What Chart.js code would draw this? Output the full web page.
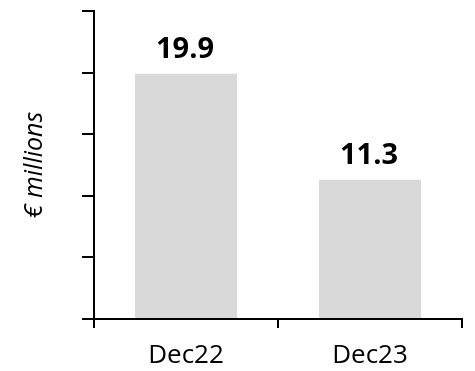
<!DOCTYPE html>
<html>
<head>
<meta charset="utf-8">
<script src="https://cdn.jsdelivr.net/npm/chart.js@4.4.0/dist/chart.umd.min.js"></script>
<style>
  body { margin: 0; background: #fff; }
</style>
</head>
<body>
<canvas id="barChart" width="475" height="371"></canvas>
<script>
var periods = ['Dec22', 'Dec23'];
var values = [19.9, 11.3];
var yTitle = '€ millions';

// value labels above each bar, placed from the bar elements
var valueLabels = {
    id: 'valueLabels',
    afterDatasetsDraw: function (chart) {
        var ctx = chart.ctx;
        var meta = chart.getDatasetMeta(0);
        ctx.save();
        ctx.font = 'bold 29px "Open Sans"';
        ctx.fillStyle = '#000';
        ctx.textAlign = 'center';
        ctx.textBaseline = 'alphabetic';
        meta.data.forEach(function (bar, i) {
            ctx.fillText(values[i].toFixed(1), bar.x - 1, bar.y - 16);
        });
        ctx.restore();
    }
};

var ctx1 = document.getElementById('barChart').getContext('2d');
var myChart1 = new Chart(ctx1, {
    type: 'bar',
    data: {
        labels: periods,
        datasets: [{
            data: values,
            backgroundColor: '#d9d9d9',
            borderWidth: 0,
            categoryPercentage: 1,
            barPercentage: 0.555
        }]
    },
    options: {
        responsive: false,
        animation: false,
        layout: {
            padding: { top: 11, right: 13, left: 0, bottom: 0 }
        },
        plugins: {
            legend: { display: false },
            tooltip: { enabled: false }
        },
        scales: {
            x: {
                grid: {
                    offset: true,
                    drawOnChartArea: false,
                    drawTicks: true,
                    tickLength: 9,
                    color: '#000',
                    lineWidth: 2
                },
                border: { color: '#000', width: 2 },
                ticks: {
                    color: '#000',
                    padding: 12,
                    font: { family: 'Open Sans', size: 26 }
                },
                afterFit: function (scale) { scale.height = 52; }
            },
            y: {
                min: 0,
                max: 25,
                grid: {
                    drawOnChartArea: false,
                    drawTicks: true,
                    tickLength: 12,
                    color: '#000',
                    lineWidth: 2
                },
                border: { color: '#000', width: 2 },
                ticks: {
                    stepSize: 5,
                    display: false
                },
                title: {
                    display: true,
                    text: yTitle,
                    color: '#000',
                    padding: { top: 20, bottom: 0 },
                    font: { family: 'Open Sans', size: 25, style: 'italic', lineHeight: 1.2 }
                },
                afterFit: function (scale) { scale.width = 94; }
            }
        }
    },
    plugins: [valueLabels]
});
</script>
</body>
</html>
